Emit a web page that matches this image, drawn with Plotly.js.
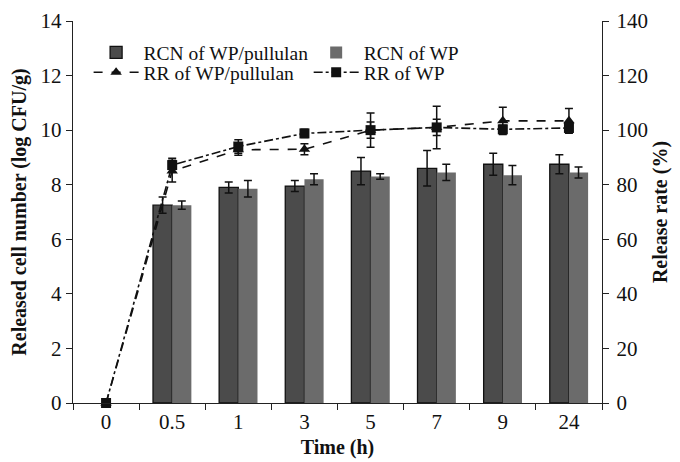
<!DOCTYPE html>
<html>
<head>
<meta charset="utf-8">
<script src="https://cdn.plot.ly/plotly-3.0.1.min.js"></script>
<style>html,body{margin:0;padding:0;background:#fff;}#chart{width:680px;height:462px;}</style>
</head>
<body>
<div id="chart"></div>
<script>
const categories = ["0", "0.5", "1", "3", "5", "7", "9", "24"];
const rcnWPPullulan = [null, 7.25, 7.9, 7.95, 8.5, 8.6, 8.75, 8.75];
const rcnWPPullulanErr = [null, 0.3, 0.2, 0.2, 0.5, 0.65, 0.4, 0.35];
const rcnWP = [null, 7.25, 7.85, 8.2, 8.3, 8.45, 8.35, 8.45];
const rcnWPErr = [null, 0.15, 0.3, 0.2, 0.1, 0.3, 0.35, 0.2];
const rrWPPullulan = [0, 85, 92.8, 93, 100, 101, 103.4, 103.4];
const rrWPPullulanErr = [0, 4, 2, 2, 3, 3, 5, 4.5];
const rrWP = [0, 87.2, 94, 98.8, 100, 101, 100.3, 100.8];
const rrWPErr = [0, 2.5, 2.5, 1.5, 6.3, 7.8, 1.5, 1.5];

const font = "Liberation Serif, Times New Roman, serif";
const errBar = (arr) => ({type: "data", array: arr, visible: true, color: "#111", thickness: 1.5, width: 4});

const traces = [
  {type: "bar", name: "RCN of WP/pullulan", x: categories, y: rcnWPPullulan,
   error_y: errBar(rcnWPPullulanErr),
   marker: {color: "#4b4b4b", line: {color: "#111", width: 1.3}}, legend: "legend"},
  {type: "bar", name: "RCN of WP", x: categories, y: rcnWP,
   error_y: errBar(rcnWPErr),
   marker: {color: "#6b6b6b", line: {color: "#6b6b6b", width: 0}}, legend: "legend2"},
  {type: "scatter", mode: "lines+markers", name: "RR of WP/pullulan", x: categories, y: rrWPPullulan, yaxis: "y2",
   error_y: errBar(rrWPPullulanErr), cliponaxis: false,
   line: {color: "#111", width: 1.6, dash: "dash"},
   marker: {symbol: "triangle-up", size: 10, color: "#111"}, legend: "legend3"},
  {type: "scatter", mode: "lines+markers", name: "RR of WP", x: categories, y: rrWP, yaxis: "y2",
   error_y: errBar(rrWPErr), cliponaxis: false,
   line: {color: "#111", width: 1.6, dash: "dashdot"},
   marker: {symbol: "square", size: 10, color: "#111"}, legend: "legend4"}
];

const axisCommon = {showline: true, linecolor: "#222", linewidth: 1.2, ticks: "outside", ticklen: 6, tickcolor: "#222",
  showgrid: false, zeroline: false, tickfont: {family: font, size: 21, color: "#111"}};

const legendBase = (x, y) => ({x: x, y: y, xanchor: "left", yanchor: "top",
  font: {family: font, size: 19.5}, bgcolor: "rgba(0,0,0,0)", itemwidth: 45});

const layout = {
  width: 680, height: 462,
  margin: {l: 73, r: 78, t: 21, b: 59},
  paper_bgcolor: "#fff", plot_bgcolor: "#fff",
  font: {family: font, color: "#111"},
  barmode: "group", bargap: 0.42, bargroupgap: 0,
  xaxis: Object.assign({}, axisCommon, {type: "category", range: [-0.5, 7.5], tickson: "boundaries",
    title: {text: "<b>Time (h)</b>", font: {family: font, size: 20}, standoff: 6}}),
  yaxis: Object.assign({}, axisCommon, {range: [0, 14], dtick: 2,
    title: {text: "<b>Released cell number (log CFU/g)</b>", font: {family: font, size: 20}, standoff: 8}}),
  yaxis2: Object.assign({}, axisCommon, {range: [0, 140], dtick: 20, overlaying: "y", side: "right", ticklabelstandoff: 3,
    title: {text: "<b>Release rate (%)</b>", font: {family: font, size: 20}, standoff: 6}}),
  legend: legendBase(0.0295, 0.968),
  legend2: legendBase(0.4455, 0.968),
  legend3: legendBase(0.0295, 0.916),
  legend4: legendBase(0.4455, 0.916),
  showlegend: true
};

Plotly.newPlot("chart", traces, layout, {displayModeBar: false, staticPlot: true});
</script>
</body>
</html>
